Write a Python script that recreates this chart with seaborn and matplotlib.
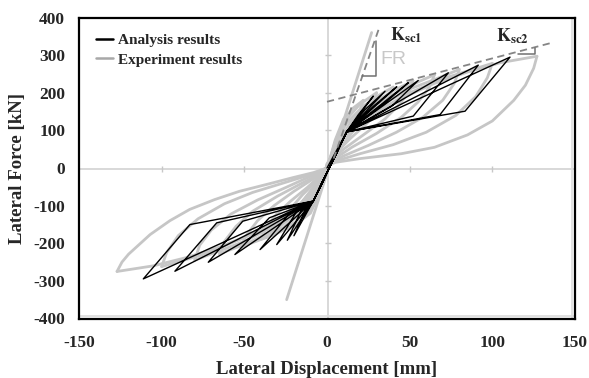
import numpy as np
import pandas as pd
import matplotlib
matplotlib.use("Agg")
import matplotlib.pyplot as plt
import seaborn as sns
from matplotlib.lines import Line2D

# ---------------- data ----------------
# Analysis results: multilinear hysteresis (black)
pos_kink = (11.9, 96)
neg_kink = (-8.3, -88)
pos_peak_x = [28, 35.1, 42.2, 49.2, 55.2, 73.4, 91.5, 110.7]
pos_peak_y = [191, 204, 216, 226.6, 232.7, 253, 273.4, 294.7]
pos_corner_x = [19, 23, 28, 35.1, 39.1, 52.2, 68.4, 83.5]
pos_corner_y = [142, 155, 164, 173, 164, 138, 142, 151]
neg_peak_x = [-20, -24, -30.4, -40.5, -55.7, -71.8, -92, -111.1]
neg_peak_y = [-180, -192, -203.5, -216.8, -230, -250.5, -274.4, -294.7]
neg_corner_x = [-13, -15.5, -18.3, -22.4, -34.9, -51, -66.7, -82.9]
neg_corner_y = [-110, -112, -115, -119, -132.5, -141.5, -145.7, -150.3]

# Experiment results (gray): loading and unloading branches
exp_branches = {
    # positive loading
    "LP9": ([0, 6, 15, 28, 45, 65, 85, 105, 127], [-3, 40, 95, 145, 185, 225, 255, 280, 297]),
    "LP8": ([0, 7, 16, 30, 50, 72, 100], [-3, 45, 100, 150, 200, 240, 278]),
    "LP7": ([0, 6, 15, 30, 50, 65, 80], [-3, 50, 105, 160, 210, 235, 262]),
    "LP6": ([0, 6, 15, 30, 48, 65], [-3, 55, 115, 170, 215, 248]),
    "LP5": ([0, 6, 14, 27, 40, 52], [-3, 60, 120, 170, 205, 232]),
    "LP4": ([0, 5, 12, 22, 32, 40], [-3, 65, 120, 165, 195, 215]),
    "LP3": ([0, 5, 11, 20, 30], [-3, 70, 125, 170, 200]),
    "LP2": ([0, 5, 10, 16, 22], [-3, 75, 130, 160, 180]),
    # positive unloading
    "UP9": ([127, 125, 120, 113, 100, 85, 65, 45, 20, 5, 0], [297, 265, 220, 180, 125, 88, 55, 38, 25, 15, 5]),
    "UP8": ([100, 97, 90, 78, 60, 40, 20, 5, 0], [278, 240, 190, 140, 95, 62, 38, 18, 5]),
    "UP7": ([80, 77, 70, 58, 42, 25, 10, 0], [262, 225, 180, 135, 95, 60, 32, 8]),
    "UP6": ([65, 62, 55, 45, 30, 15, 3, 0], [248, 215, 175, 135, 92, 55, 20, 8]),
    "UP5": ([52, 50, 44, 35, 22, 10, 0], [232, 205, 170, 130, 88, 50, 10]),
    "UP4": ([40, 38, 32, 24, 14, 5, 0], [215, 190, 155, 118, 78, 38, 10]),
    "UP3": ([30, 28, 23, 16, 8, 2, 0], [200, 175, 145, 108, 65, 25, 5]),
    "UP2": ([22, 20, 16, 10, 4, 0], [180, 155, 125, 88, 45, 10]),
    # negative loading
    "LN9": ([0, -6, -15, -28, -45, -65, -85, -105, -127], [5, -40, -90, -135, -175, -210, -238, -260, -275]),
    "LN8": ([0, -7, -16, -30, -50, -75, -100], [5, -45, -95, -140, -185, -230, -262]),
    "LN7": ([0, -6, -15, -30, -50, -65, -80], [5, -50, -100, -150, -195, -220, -245]),
    "LN6": ([0, -6, -15, -30, -48, -65], [5, -55, -110, -160, -200, -228]),
    "LN5": ([0, -6, -14, -27, -40, -52], [5, -60, -115, -160, -190, -210]),
    "LN4": ([0, -5, -12, -22, -32, -40], [5, -62, -115, -155, -178, -190]),
    "LN3": ([0, -5, -11, -20, -30], [5, -68, -120, -155, -170]),
    "LN2": ([0, -5, -10, -16, -22], [5, -72, -120, -140, -150]),
    # negative unloading
    "UN9": ([-127, -124, -120, -107, -95, -83, -68, -53, -35, -21, -8, 0],
            [-275, -250, -229, -177, -140, -110, -84, -62, -42, -26, -12, 0]),
    "UN8": ([-100, -97, -90, -78, -62, -45, -25, -8, 0], [-262, -225, -180, -135, -95, -65, -38, -15, 0]),
    "UN7": ([-80, -77, -70, -58, -42, -25, -10, 0], [-245, -205, -165, -122, -85, -52, -22, -3]),
    "UN6": ([-65, -62, -55, -45, -30, -15, 0], [-228, -195, -155, -115, -75, -40, -5]),
    "UN5": ([-52, -49, -42, -32, -20, -8, 0], [-210, -180, -140, -100, -62, -28, -5]),
    "UN4": ([-40, -37, -31, -22, -12, -4, 0], [-190, -160, -125, -88, -52, -20, -5]),
    "UN3": ([-30, -27, -22, -15, -7, 0], [-170, -140, -108, -72, -38, -5]),
    "UN2": ([-22, -19, -14, -8, -2, 0], [-150, -120, -88, -55, -20, 0]),
    # fully-rigid (FR) reference line
    "FR": ([-24.4, 27], [-350, 360]),
}

# Stiffness reference lines and slope triangles
ksc1_x = [4, 32]
ksc1_y = [25, 378]
ksc2_x = [0, 137]
ksc2_y = [176, 334]
tri1_x = [21, 29.6, 29.6]
tri1_y = [244, 244, 337]
tri2_x = [115.5, 126, 126]
tri2_y = [304, 304, 320]

x_ticks = [-150, -100, -50, 0, 50, 100, 150]
y_ticks = [-400, -300, -200, -100, 0, 100, 200, 300, 400]

# ---------------- build tables ----------------
path_x, path_y = [0.0], [0.0]
for i in range(len(pos_peak_x)):
    path_x += [pos_kink[0], pos_peak_x[i], pos_corner_x[i], pos_kink[0], neg_kink[0],
               neg_peak_x[i], neg_corner_x[i], neg_kink[0]]
    path_y += [pos_kink[1], pos_peak_y[i], pos_corner_y[i], pos_kink[1], neg_kink[1],
               neg_peak_y[i], neg_corner_y[i], neg_kink[1]]
df_ana = pd.DataFrame({"x": path_x, "y": path_y})

rows = []
for name, (bx, by) in exp_branches.items():
    for k, (a, b) in enumerate(zip(bx, by)):
        rows.append({"branch": name, "order": k, "x": a, "y": b})
df_exp = pd.DataFrame(rows)

# ---------------- style ----------------
sns.set_theme(style="white")
plt.rcParams["font.family"] = ["Liberation Serif", "DejaVu Serif"]
plt.rcParams["mathtext.fontset"] = "stix"
plt.rcParams["axes.unicode_minus"] = False

fig = plt.figure(figsize=(5.89, 3.78), dpi=100)
ax = fig.add_axes([79 / 589, 1 - 318.5 / 378, (575 - 79) / 589, 301 / 378])

gray_line = "#c6c6c6"
# experiment figure background axes (gray)
ax.axhline(-3, color="#d2d2d2", lw=1.2, zorder=0)
ax.axvline(0.5, color="#d2d2d2", lw=1.2, zorder=0)
ax.axvline(148, color="#dcdcdc", lw=1.2, zorder=0)
ax.axhline(-394, color="#dcdcdc", lw=1.2, zorder=0)
yt_inner = [t for t in y_ticks if abs(t) < 400 and t != 0]
xt_inner = [t for t in x_ticks if abs(t) < 150 and t != 0]
ax.plot([0.5] * len(yt_inner), yt_inner, ls="none", marker="_", ms=4, color="#c8c8c8", zorder=0)
ax.plot(xt_inner, [-3] * len(xt_inner), ls="none", marker="|", ms=4, color="#c8c8c8", zorder=0)

sns.lineplot(data=df_exp, x="x", y="y", units="branch", estimator=None, sort=False,
             color=gray_line, lw=2.0, ax=ax, legend=False, zorder=1)
sns.lineplot(data=df_ana, x="x", y="y", estimator=None, sort=False,
             color="black", lw=1.0, ax=ax, legend=False, zorder=3)

dash = (0, (4, 2.5))
ax.plot(ksc1_x, ksc1_y, ls=dash, color="#858585", lw=1.3, zorder=4)
ax.plot(ksc2_x, ksc2_y, ls=dash, color="#858585", lw=1.3, zorder=4)
ax.plot(tri1_x, tri1_y, color="#707070", lw=1.1, zorder=4)
ax.plot(tri2_x, tri2_y, color="#707070", lw=1.1, zorder=4)

ax.text(38, 352, r"$\mathbf{K_{sc1}}$", fontsize=13, va="center", ha="left", zorder=5)
ax.text(102, 350, r"$\mathbf{K_{sc2}}$", fontsize=13, va="center", ha="left", zorder=5)
ax.text(40, 289, "FR", family=["Liberation Sans", "DejaVu Sans"], color="#c8c8c8",
        fontsize=14, ha="center", va="center", zorder=2)

ax.set_xlim(-150, 150)
ax.set_ylim(-400, 400)
ax.set_xticks(x_ticks)
ax.set_yticks(y_ticks)
ax.tick_params(axis="x", length=0, labelsize=12.5, pad=12)
ax.tick_params(axis="y", length=0, labelsize=12.5, pad=10)
for lab in ax.get_xticklabels() + ax.get_yticklabels():
    lab.set_fontweight("bold")
for s in ax.spines.values():
    s.set_color("black")
    s.set_linewidth(1.6)

ax.set_xlabel("Lateral Displacement [mm]", fontsize=13.5, fontweight="bold", labelpad=7)
ax.set_ylabel("Lateral Force [kN]", fontsize=13.5, fontweight="bold", labelpad=5)

handles = [Line2D([], [], color="black", lw=1.8), Line2D([], [], color="#a8a8a8", lw=1.8)]
ax.legend(handles, ["Analysis results", "Experiment results"], loc="upper left",
          bbox_to_anchor=(0.022, 0.968), frameon=False, handlelength=1.1,
          handletextpad=0.35, labelspacing=0.4, borderaxespad=0.0,
          prop={"weight": "bold", "size": 11})

fig.savefig("out.png", dpi=100)
